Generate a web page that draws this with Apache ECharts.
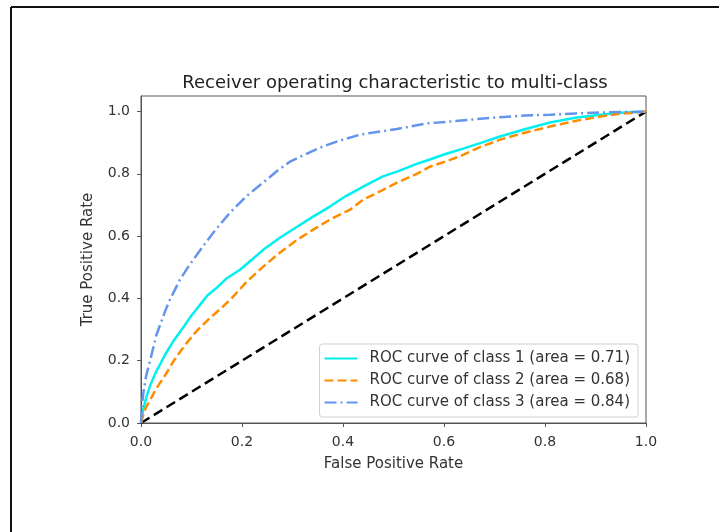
<!DOCTYPE html>
<html>
<head>
<meta charset="utf-8">
<script src="https://cdn.jsdelivr.net/npm/echarts@6/dist/echarts.min.js"></script>
<style>
html,body{margin:0;padding:0;background:#fff;}
#c{width:719px;height:532px;}
</style>
</head>
<body>
<div id="c"></div>
<script>
const titleText = 'Receiver operating characteristic to multi-class';
const xName = 'False Positive Rate';
const yName = 'True Positive Rate';
const seriesNames = [
  'ROC curve of class 1 (area = 0.71)',
  'ROC curve of class 2 (area = 0.68)',
  'ROC curve of class 3 (area = 0.84)'
];
const xTicks = [0, 0.2, 0.4, 0.6, 0.8, 1.0];
const yTicks = [0, 0.2, 0.4, 0.6, 0.8, 1.0];

// [fpr, tpr]
const class1 = [
  [0,0],[0.004,0.04],[0.01,0.08],[0.018,0.12],[0.03,0.165],[0.048,0.22],[0.065,0.265],
  [0.087,0.315],[0.1,0.345],[0.117,0.38],[0.132,0.41],[0.147,0.43],[0.17,0.465],
  [0.196,0.492],[0.22,0.525],[0.242,0.556],[0.275,0.595],[0.309,0.630],[0.34,0.662],
  [0.374,0.695],[0.405,0.728],[0.44,0.759],[0.479,0.792],[0.507,0.807],[0.546,0.832],
  [0.572,0.846],[0.6,0.862],[0.632,0.878],[0.67,0.898],[0.711,0.92],[0.76,0.943],
  [0.81,0.965],[0.86,0.98],[0.909,0.99],[0.95,0.996],[1,1]
];
const class2 = [
  [0,0],[0.005,0.03],[0.01,0.05],[0.018,0.074],[0.03,0.11],[0.048,0.154],[0.065,0.2],
  [0.087,0.25],[0.11,0.295],[0.137,0.338],[0.16,0.37],[0.182,0.405],[0.21,0.455],
  [0.242,0.502],[0.275,0.547],[0.309,0.588],[0.34,0.62],[0.374,0.653],[0.414,0.685],
  [0.44,0.717],[0.475,0.745],[0.507,0.772],[0.546,0.8],[0.572,0.823],[0.6,0.838],
  [0.632,0.857],[0.67,0.885],[0.711,0.91],[0.76,0.932],[0.81,0.952],[0.86,0.97],
  [0.909,0.984],[0.95,0.993],[1,1]
];
const class3 = [
  [0,0],[0.002,0.06],[0.005,0.1],[0.01,0.15],[0.018,0.2],[0.03,0.28],[0.048,0.36],
  [0.057,0.395],[0.077,0.46],[0.095,0.505],[0.117,0.555],[0.145,0.615],[0.176,0.675],
  [0.21,0.73],[0.242,0.772],[0.27,0.81],[0.295,0.839],[0.325,0.862],[0.354,0.884],
  [0.39,0.905],[0.434,0.926],[0.47,0.935],[0.507,0.944],[0.566,0.962],[0.612,0.968],
  [0.66,0.975],[0.71,0.982],[0.76,0.987],[0.81,0.99],[0.86,0.994],[0.91,0.997],[1,1]
];
const diagonal = [[0,0],[1,1]];

const colors = ['#00f0f0', '#ff8c00', '#6495ed', '#000000'];

const chart = echarts.init(document.getElementById('c'), null, {renderer: 'canvas'});
const fontFam = '"DejaVu Sans", sans-serif';
chart.setOption({
  animation: false,
  backgroundColor: '#fff',
  title: {
    text: titleText,
    left: 390, top: 69, textAlign: 'center',
    textStyle: {fontFamily: fontFam, fontSize: 18, fontWeight: 'normal', color: '#222'}
  },
  grid: {
    left: 141, right: 73, top: 96, bottom: 109,
    show: true, borderColor: '#555', borderWidth: 1, backgroundColor: '#fff'
  },
  xAxis: {
    type: 'value', min: 0, max: 1, interval: 0.2,
    name: xName, nameLocation: 'middle', nameGap: 34,
    nameTextStyle: {fontFamily: fontFam, fontSize: 15, color: '#333'},
    axisLine: {show: true, lineStyle: {color: '#555', width: 1}},
    axisTick: {show: true, length: 4, lineStyle: {color: '#555'}},
    axisLabel: {fontFamily: fontFam, fontSize: 14, color: '#333', margin: 12,
      formatter: v => xTicks.some(t => Math.abs(t - v) < 1e-6) ? v.toFixed(1) : ''},
    splitLine: {show: false}
  },
  yAxis: {
    type: 'value', min: 0, max: 1.05, interval: 0.2,
    name: yName, nameLocation: 'middle', nameGap: 45, nameRotate: 90,
    nameTextStyle: {fontFamily: fontFam, fontSize: 15, color: '#333'},
    axisLine: {show: true, lineStyle: {color: '#555', width: 1}},
    axisTick: {show: true, length: 4, lineStyle: {color: '#555'}},
    axisLabel: {fontFamily: fontFam, fontSize: 14, color: '#333', margin: 11, showMaxLabel: false,
      formatter: v => yTicks.some(t => Math.abs(t - v) < 1e-6) ? v.toFixed(1) : ''},
    splitLine: {show: false}
  },
  legend: {
    orient: 'vertical', right: 81, bottom: 115,
    data: seriesNames,
    backgroundColor: '#fff', borderColor: '#d0d0d0', borderWidth: 1, borderRadius: 3,
    padding: [7, 8, 7, 4], itemWidth: 33, itemHeight: 14, itemGap: 7,
    itemStyle: {opacity: 0},
    textStyle: {fontFamily: fontFam, fontSize: 15, color: '#333', padding: [0, 0, 0, 7]}
  },
  series: [
    {name: seriesNames[0], type: 'line', data: class1, showSymbol: false, symbol: 'none',
      lineStyle: {color: colors[0], width: 2.5, type: 'solid'}, itemStyle: {color: colors[0]}, z: 3},
    {name: seriesNames[1], type: 'line', data: class2, showSymbol: false, symbol: 'none',
      lineStyle: {color: colors[1], width: 2.5, type: [9, 4]}, itemStyle: {color: colors[1]}, z: 3},
    {name: seriesNames[2], type: 'line', data: class3, showSymbol: false, symbol: 'none',
      lineStyle: {color: colors[2], width: 2.5, type: [12, 4, 2, 4]}, itemStyle: {color: colors[2]}, z: 3},
    {name: 'chance', type: 'line', data: diagonal, showSymbol: false, symbol: 'none',
      lineStyle: {color: colors[3], width: 2.5, type: [10, 5]}, z: 2}
  ],
  graphic: [
    {type: 'line', shape: {x1: 11, y1: 7, x2: 719, y2: 7}, style: {stroke: '#111', lineWidth: 2}, silent: true},
    {type: 'line', shape: {x1: 11, y1: 7, x2: 11, y2: 532}, style: {stroke: '#111', lineWidth: 2}, silent: true}
  ]
});
</script>
</body>
</html>
